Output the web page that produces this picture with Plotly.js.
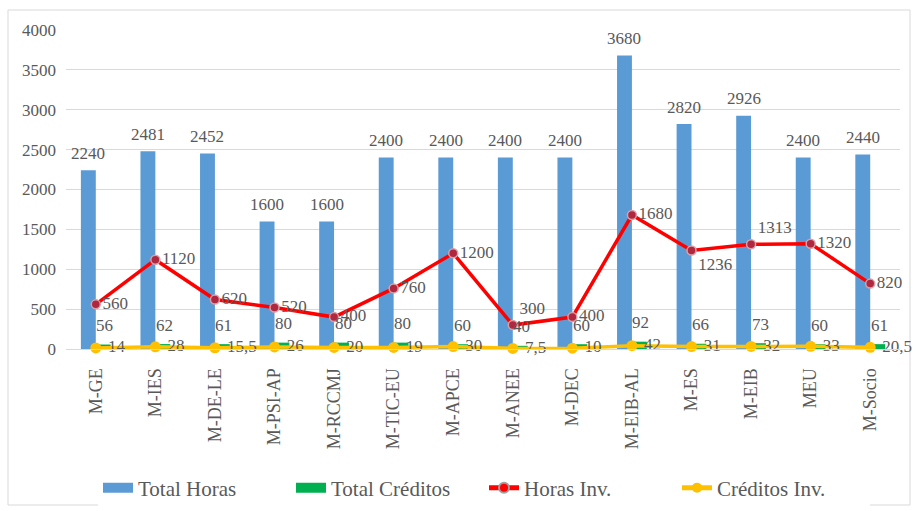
<!DOCTYPE html>
<html>
<head>
<meta charset="utf-8">
<script src="https://cdn.plot.ly/plotly-3.0.1.min.js"></script>
<style>html,body{margin:0;padding:0;background:#fff;}#chart{width:916px;height:511px;}</style>
</head>
<body>
<div id="chart"></div>
<script>
const categories = ["M-GE","M-IES","M-DE-LE","M-PSI-AP","M-RCCMJ","M-TIC-EU","M-APCE","M-ANEE","M-DEC","M-EIB-AL","M-ES","M-EIB","MEU","M-Socio"];
const totalHoras = [2240,2481,2452,1600,1600,2400,2400,2400,2400,3680,2820,2926,2400,2440];
const totalCreditos = [56,62,61,80,80,80,60,40,60,92,66,73,60,61];
const horasInv = [560,1120,620,520,400,760,1200,300,400,1680,1236,1313,1320,820];
const creditosInv = [14,28,15.5,26,20,19,30,7.5,10,42,31,32,33,20.5];
const horasInvLabelPos = ["middle right","middle right","middle right","middle right","middle right","middle right","middle right","top right","middle right","middle right","bottom right","top right","middle right","middle right"];

const fmt = v => String(v).replace('.', ',');
const FONT = "Liberation Serif";
const TXT = "#595959";

const traces = [
  {type:'bar', name:'Total Horas', x:categories, y:totalHoras, marker:{color:'#5B9BD5'}, showlegend:false, hoverinfo:'x+y'},
  {type:'bar', name:'Total Créditos', x:categories, y:totalCreditos, marker:{color:'#00B050'}, showlegend:false, hoverinfo:'x+y'},
  {type:'scatter', mode:'lines+markers+text', name:'Horas Inv.', x:categories, y:horasInv, cliponaxis:false,
   line:{color:'#FF0000', width:3.5}, marker:{color:'#B0283F', size:9, line:{color:'#D9A0A8', width:1.5}},
   text:horasInv.map(fmt), textposition:horasInvLabelPos, textfont:{family:FONT, size:17, color:TXT}, showlegend:false},
  {type:'scatter', mode:'lines+markers+text', name:'Créditos Inv.', x:categories, y:creditosInv, cliponaxis:false,
   line:{color:'#FFC000', width:3.5}, marker:{color:'#FFC000', size:11},
   text:creditosInv.map(v => ' ' + fmt(v)), textposition:'middle right', textfont:{family:FONT, size:17, color:TXT}, showlegend:false},
  {type:'scatter', mode:'lines', name:'Total Horas', x:[null], y:[null], line:{color:'#5B9BD5', width:12}, hoverinfo:'skip'},
  {type:'scatter', mode:'lines', name:'Total Créditos', x:[null], y:[null], line:{color:'#00B050', width:12}, hoverinfo:'skip'},
  {type:'scatter', mode:'lines+markers', name:'Horas Inv.', x:[null], y:[null], line:{color:'#FF0000', width:5}, marker:{color:'#FF0000', size:10, line:{color:'#A0A0A0', width:2}}, hoverinfo:'skip'},
  {type:'scatter', mode:'lines+markers', name:'Créditos Inv.', x:[null], y:[null], line:{color:'#FFC000', width:5}, marker:{color:'#FFC000', size:10}, hoverinfo:'skip'}
];

const annotations = [];
categories.forEach((c,i) => {
  annotations.push({x:c, y:totalHoras[i], text:fmt(totalHoras[i]), showarrow:false, xshift:-7.5, yshift:17, yanchor:'middle', font:{family:FONT, size:17, color:TXT}});
  annotations.push({x:c, y:totalCreditos[i], text:fmt(totalCreditos[i]), showarrow:false, xshift:9, yshift:19, yanchor:'middle', font:{family:FONT, size:17, color:TXT}});
});

const L = 66, R = 16, T = 30, B = 162;
const pw = 916 - L - R, ph = 511 - T - B;
const px = v => (v - L) / pw;
const py = v => (511 - B - v) / ph;

const layout = {
  width:916, height:511,
  margin:{l:L, r:R, t:T, b:B, pad:0, autoexpand:false},
  paper_bgcolor:'#fff', plot_bgcolor:'#fff',
  barmode:'group', bargap:0.5, bargroupgap:0,
  font:{family:FONT, color:TXT, size:17},
  xaxis:{type:'category', range:[-0.5, categories.length-0.5], autorange:false, tickangle:-90, tickfont:{family:FONT, size:18, color:TXT}, showgrid:false,
         showline:true, linecolor:'#d9d9d9', linewidth:1, ticks:'', ticklabelstandoff:11, fixedrange:true},
  yaxis:{range:[0,4000], autorange:false, dtick:500, tickfont:{family:FONT, size:17, color:TXT}, gridcolor:'#d9d9d9', gridwidth:1,
         zeroline:true, zerolinecolor:'#d9d9d9', zerolinewidth:1, showline:false, ticks:'', ticklabelstandoff:9, fixedrange:true},
  legend:{orientation:'h', x:px(484), xanchor:'center', y:py(488), yanchor:'middle', font:{family:FONT, size:21, color:TXT},
          itemwidth:30, tracegroupgap:0, entrywidth:148, entrywidthmode:'pixels'},
  showlegend:true,
  annotations:annotations,
  shapes:[{type:'rect', xref:'paper', yref:'paper', x0:px(8), x1:px(910), y0:py(505), y1:py(10), line:{color:'#d9d9d9', width:1}, layer:'below'}]
};

Plotly.newPlot('chart', traces, layout, {displayModeBar:false, staticPlot:true});
</script>
</body>
</html>
